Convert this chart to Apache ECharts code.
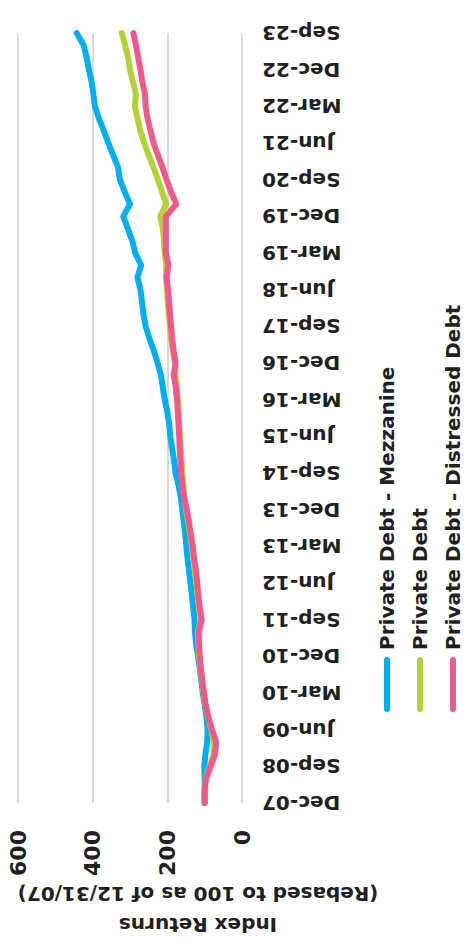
<!DOCTYPE html>
<html>
<head>
<meta charset="utf-8">
<script src="https://cdn.jsdelivr.net/npm/echarts@6/dist/echarts.min.js"></script>
<style>
html,body{margin:0;padding:0;background:#fff;overflow:hidden;width:466px;height:949px;}
#chart{position:absolute;left:0;top:0;width:949px;height:466px;transform-origin:0 0;transform:translateY(949px) rotate(-90deg);}
</style>
</head>
<body>
<div id="chart"></div>
<script>
const categories = ['Dec-07','Mar-08','Jun-08','Sep-08','Dec-08','Mar-09','Jun-09','Sep-09','Dec-09','Mar-10','Jun-10','Sep-10','Dec-10','Mar-11','Jun-11','Sep-11','Dec-11','Mar-12','Jun-12','Sep-12','Dec-12','Mar-13','Jun-13','Sep-13','Dec-13','Mar-14','Jun-14','Sep-14','Dec-14','Mar-15','Jun-15','Sep-15','Dec-15','Mar-16','Jun-16','Sep-16','Dec-16','Mar-17','Jun-17','Sep-17','Dec-17','Mar-18','Jun-18','Sep-18','Dec-18','Mar-19','Jun-19','Sep-19','Dec-19','Mar-20','Jun-20','Sep-20','Dec-20','Mar-21','Jun-21','Sep-21','Dec-21','Mar-22','Jun-22','Sep-22','Dec-22','Mar-23','Jun-23','Sep-23'];

const mezzanine = [100,100,100,101,98,93,92,95,100,105,109,113,118,123,126,127,131,134,138,142,146,149,152,156,160,164,170,178,182,187,192,195,200,207,212,217,226,236,248,258,264,268,272,280,270,286,294,306,318,300,314,327,332,345,358,370,383,394,398,403,410,416,424,443];

const privateDebt = [100,100,97,86,76,76,82,91,98,103,107,111,115,117,118,110,115,119,122,126,130,134,139,144,150,154,157,160,162,164,166,168,170,172,174,178,180,185,190,193,196,199,201,203,203,207,209,212,219,203,214,225,237,250,262,272,280,287,284,292,300,305,313,322];

const distressed = [100,100,96,84,72,69,80,90,97,102,106,110,113,115,116,108,113,117,120,123,128,132,137,142,148,155,160,163,165,167,168,170,172,174,177,183,178,183,187,190,193,195,198,202,197,204,204,204,204,176,190,202,213,225,237,245,253,258,260,267,272,278,284,291];

const valueTicks = [0, 200, 400, 600];
const seriesNames = ['Private Debt - Mezzanine', 'Private Debt', 'Private Debt - Distressed Debt'];
const axisTitle = 'Index Returns\n(Rebased to 100 as of 12/31/07)';

const colors = ['#00AEEF', '#B3D235', '#F05A8A'];
const FONT = 'DejaVu Sans';
const TEXT = '#231F20';
const pill = 'path://M3,0 L52,0 A3,3 0 0 1 52,6 L3,6 A3,3 0 0 1 3,0 Z';

const chart = echarts.init(document.getElementById('chart'), null, {renderer: 'svg', width: 949, height: 466});

function mkSeries(name, data, color) {
  return {
    name: name,
    type: 'line',
    data: data,
    showSymbol: false,
    symbol: 'none',
    smooth: false,
    lineStyle: {color: color, width: 6, cap: 'round', join: 'round'},
    itemStyle: {color: color},
    emphasis: {disabled: true},
    animation: false
  };
}

chart.setOption({
  animation: false,
  grid: {left: 146, right: 33, top: 18, bottom: 224, containLabel: false},
  legend: {
    orient: 'vertical',
    left: 237,
    top: 377,
    width: 400,
    height: 150,
    padding: 0,
    itemWidth: 55,
    itemHeight: 6,
    itemGap: 13,
    icon: pill,
    selectedMode: false,
    textStyle: {fontFamily: FONT, fontWeight: 'bold', fontSize: 20, color: TEXT, lineHeight: 20, padding: [0, 0, 0, 2]},
    data: seriesNames
  },
  xAxis: {
    type: 'category',
    data: categories,
    boundaryGap: false,
    axisLine: {show: false},
    axisTick: {show: false},
    splitLine: {show: false},
    axisLabel: {
      interval: 2,
      rotate: 90,
      margin: 20,
      fontFamily: FONT,
      fontWeight: 'bold',
      fontSize: 20,
      color: TEXT
    }
  },
  yAxis: {
    type: 'value',
    min: valueTicks[0],
    max: valueTicks[valueTicks.length - 1],
    interval: 200,
    axisLine: {show: false},
    axisTick: {show: false},
    splitLine: {show: true, lineStyle: {color: '#D9D9D9', width: 2}},
    axisLabel: {
      margin: 27,
      fontFamily: FONT,
      fontWeight: 'bold',
      fontSize: 22,
      color: TEXT
    }
  },
  graphic: [{
    type: 'text',
    x: 40,
    y: 198,
    rotation: Math.PI / 2,
    style: {
      text: axisTitle,
      align: 'center',
      verticalAlign: 'middle',
      fontFamily: FONT,
      fontWeight: 'bold',
      fontSize: 20,
      lineHeight: 31,
      fill: TEXT
    }
  }],
  series: [
    mkSeries(seriesNames[0], mezzanine, colors[0]),
    mkSeries(seriesNames[1], privateDebt, colors[1]),
    mkSeries(seriesNames[2], distressed, colors[2])
  ]
});
</script>
</body>
</html>
